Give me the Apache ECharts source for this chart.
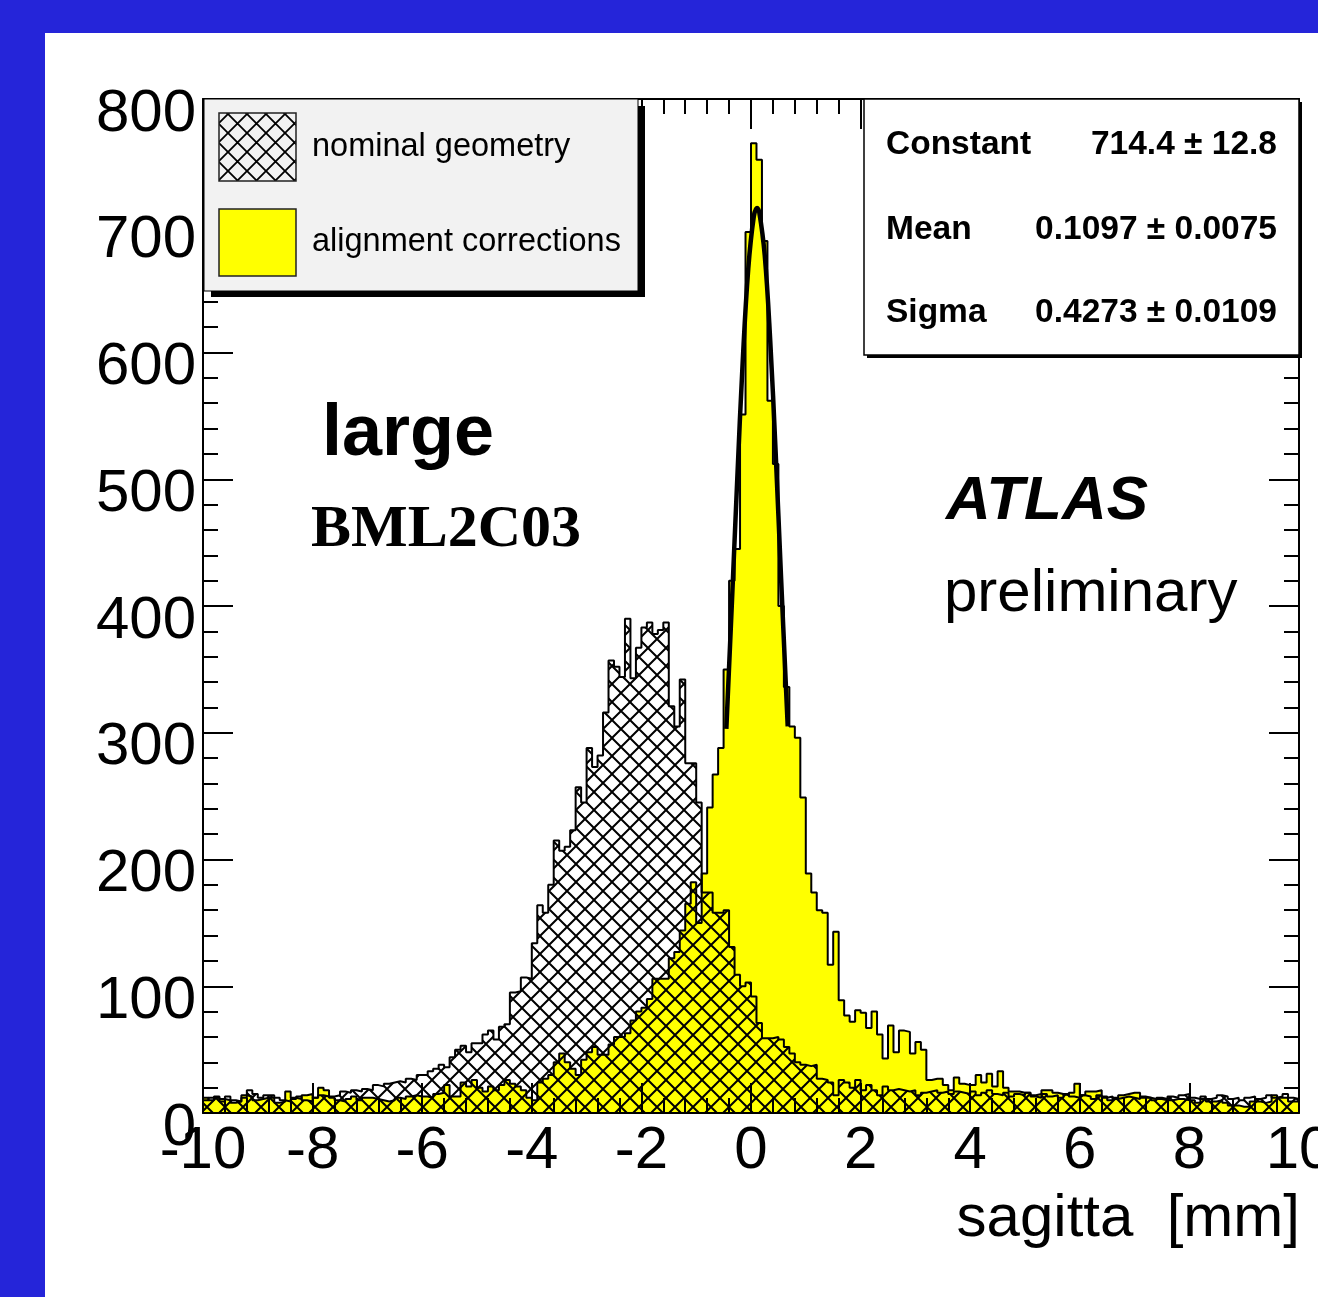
<!DOCTYPE html>
<html>
<head>
<meta charset="utf-8">
<title>sagitta BML2C03</title>
<script src="https://cdn.jsdelivr.net/npm/echarts@6/dist/echarts.min.js"></script>
<style>
	html, body { margin: 0; padding: 0; background: #fff; }
	#chart { width: 1318px; height: 1297px; }
</style>
</head>
<body>
<div id="chart"></div>
<script>
	// 200 bins of 0.1 mm between -10 and 10
	var binLow = -10
	var binWidth = 0.1

	// nominal geometry (hatched)
	var nominal = [
		10, 12, 12, 9, 13, 10, 9, 12, 18, 15,
		12, 14, 14, 12, 10, 9, 11, 13, 10, 9,
		12, 14, 13, 13, 14, 17, 16, 18, 17, 19,
		18, 22, 21, 23, 24, 25, 24, 27, 26, 30,
		30, 33, 35, 38, 36, 44, 50, 53, 48, 55,
		55, 62, 65, 58, 68, 70, 95, 96, 107, 106,
		134, 164, 158, 180, 215, 207, 210, 223, 257, 245,
		288, 273, 282, 316, 357, 352, 344, 390, 343, 367,
		383, 387, 378, 381, 387, 321, 305, 342, 276, 276,
		245, 174, 174, 158, 158, 160, 131, 109, 100, 103,
		92, 71, 59, 59, 60, 58, 52, 47, 40, 38,
		37, 38, 27, 26, 24, 14, 26, 24, 20, 26,
		18, 22, 18, 14, 21, 18, 19, 18, 17, 18,
		14, 16, 17, 18, 16, 17, 15, 17, 16, 15,
		17, 14, 16, 18, 15, 14, 16, 13, 15, 14,
		16, 13, 12, 15, 13, 14, 12, 15, 13, 12,
		14, 13, 11, 14, 12, 13, 11, 12, 13, 12,
		11, 13, 12, 10, 12, 11, 13, 12, 14, 15,
		12, 11, 13, 11, 12, 14, 13, 11, 12, 10,
		12, 13, 11, 12, 14, 12, 13, 15, 12, 11
	]

	// alignment corrections (yellow)
	var corrected = [
		12, 10, 13, 11, 10, 8, 9, 14, 13, 10,
		11, 12, 12, 8, 9, 17, 12, 11, 14, 15,
		12, 20, 18, 12, 10, 9, 11, 13, 10, 12,
		12, 11, 10, 9, 10, 12, 11, 13, 14, 13,
		13, 12, 15, 16, 22, 13, 13, 24, 21, 26,
		20, 17, 21, 18, 22, 26, 23, 21, 18, 12,
		10, 24, 27, 30, 40, 47, 40, 35, 30, 42,
		48, 52, 46, 46, 54, 60, 60, 63, 73, 80,
		83, 90, 106, 106, 106, 122, 127, 144, 165, 182,
		150, 189, 241, 267, 288, 350, 420, 445, 551, 695,
		765, 752, 688, 562, 512, 400, 336, 305, 296, 249,
		189, 174, 160, 158, 117, 143, 89, 77, 72, 81,
		79, 67, 80, 62, 43, 69, 48, 65, 64, 47,
		56, 50, 26, 27, 27, 22, 18, 28, 23, 22,
		22, 30, 24, 31, 21, 33, 20, 17, 17, 16,
		16, 14, 15, 18, 18, 16, 15, 14, 16, 23,
		14, 17, 17, 18, 13, 10, 12, 14, 15, 16,
		16, 12, 12, 11, 11, 10, 10, 11, 11, 10,
		10, 8, 11, 9, 9, 10, 8, 6, 6, 5,
		5, 9, 9, 8, 9, 14, 12, 12, 9, 9
	]

	// gaussian fit curve
	var fitX = [-0.45, -0.35, -0.25, -0.15, -0.05, 0.05, 0.11, 0.15, 0.25, 0.35, 0.45, 0.55, 0.67]
	var fitY = [303, 401, 501, 594, 666, 707, 714, 711, 677, 610, 521, 421, 305]

	var statNames = ['Constant', 'Mean', 'Sigma']
	var statValues = ['714.4 \u00b1 12.8', '0.1097 \u00b1 0.0075', '0.4273 \u00b1 0.0109']
	var legendNames = ['nominal geometry', 'alignment corrections']

	var sans = '"Liberation Sans", Arial, Helvetica, sans-serif'
	var serif = '"Liberation Serif", "Times New Roman", serif'

	// histogram -> outline points for step:'end'
	function stepData(vals) {
		var pts = [[binLow, 0]]
		for (var i = 0; i < vals.length; i++) {
			pts.push([+(binLow + i * binWidth).toFixed(2), vals[i]])
		}
		var hi = +(binLow + vals.length * binWidth).toFixed(2)
		pts.push([hi, vals[vals.length - 1]])
		pts.push([hi, 0])
		return pts
	}

	// cross hatch tile
	function hatch(size, lw) {
		var c = document.createElement('canvas')
		c.width = size
		c.height = size
		var g = c.getContext('2d')
		g.strokeStyle = '#000'
		g.lineWidth = lw
		g.beginPath()
		g.moveTo(-1, -1)
		g.lineTo(size + 1, size + 1)
		g.moveTo(size + 1, -1)
		g.lineTo(-1, size + 1)
		g.stroke()
		return c
	}

	function frameAxis(extra) {
		var ax = {
			type: 'value',
			z: 10,
			axisLine: { show: true, onZero: false, lineStyle: { color: '#000', width: 2 } },
			axisTick: { show: true, inside: true, length: 30, lineStyle: { color: '#000', width: 2 } },
			minorTick: { show: true, splitNumber: 5, length: 15, lineStyle: { color: '#000', width: 2 } },
			splitLine: { show: false },
			minorSplitLine: { show: false }
		}
		for (var k in extra) ax[k] = extra[k]
		return ax
	}

	var xRange = { min: -10, max: 10, interval: 2 }
	var yRange = { min: 0, max: 800, interval: 100 }

	var hatchTile = hatch(18, 2)

	var graphics = [
		// blue page frame
		{ type: 'rect', shape: { x: 0, y: 0, width: 1318, height: 33 }, style: { fill: '#2525d9' }, z: 100 },
		{ type: 'rect', shape: { x: 0, y: 0, width: 45, height: 1297 }, style: { fill: '#2525d9' }, z: 100 },

		// legend box
		{ type: 'rect', shape: { x: 211, y: 106, width: 434, height: 191 }, style: { fill: '#000' }, z: 100 },
		{ type: 'rect', shape: { x: 204, y: 99, width: 434, height: 192 }, style: { fill: '#f2f2f2', stroke: '#000', lineWidth: 1 }, z: 101 },
		{ type: 'rect', shape: { x: 219, y: 113, width: 77, height: 68 }, style: { fill: { image: hatch(19, 1.8), repeat: 'repeat' }, stroke: '#222', lineWidth: 1.5 }, z: 102 },
		{ type: 'rect', shape: { x: 219, y: 209, width: 77, height: 67 }, style: { fill: '#ffff00', stroke: '#222', lineWidth: 1.5 }, z: 102 },
		{ type: 'text', x: 312, y: 147, style: { text: legendNames[0], fill: '#000', fontSize: 32.5, fontFamily: sans, align: 'left', verticalAlign: 'middle' }, z: 102 },
		{ type: 'text', x: 312, y: 242, style: { text: legendNames[1], fill: '#000', fontSize: 32.5, fontFamily: sans, align: 'left', verticalAlign: 'middle' }, z: 102 },

		// fit results box
		{ type: 'rect', shape: { x: 867, y: 102, width: 435, height: 256 }, style: { fill: '#000' }, z: 100 },
		{ type: 'rect', shape: { x: 864, y: 99, width: 435, height: 256 }, style: { fill: '#fff', stroke: '#000', lineWidth: 1.5 }, z: 101 },

		// labels
		{ type: 'text', x: 322, y: 435, style: { text: 'large', fill: '#000', fontSize: 72, fontWeight: 'bold', fontFamily: sans, align: 'left', verticalAlign: 'middle' }, z: 102 },
		{ type: 'text', x: 311, y: 530, style: { text: 'BML2C03', fill: '#000', fontSize: 60, fontWeight: 'bold', fontFamily: serif, align: 'left', verticalAlign: 'middle' }, z: 102 },
		{ type: 'text', x: 946, y: 502, style: { text: 'ATLAS', fill: '#000', fontSize: 62, fontWeight: 'bold', fontStyle: 'italic', fontFamily: sans, align: 'left', verticalAlign: 'middle' }, z: 102 },
		{ type: 'text', x: 944, y: 594, style: { text: 'preliminary', fill: '#000', fontSize: 60, fontFamily: sans, align: 'left', verticalAlign: 'middle' }, z: 102 },
		{ type: 'text', x: 1300, y: 1219, style: { text: 'sagitta  [mm]', fill: '#000', fontSize: 60, fontFamily: sans, align: 'right', verticalAlign: 'middle' }, z: 102 }
	]

	var statY = [145, 230, 313]
	for (var s = 0; s < statNames.length; s++) {
		graphics.push({ type: 'text', x: 886, y: statY[s], style: { text: statNames[s], fill: '#000', fontSize: 33.5, fontWeight: 'bold', fontFamily: sans, align: 'left', verticalAlign: 'middle' }, z: 102 })
		graphics.push({ type: 'text', x: 1277, y: statY[s], style: { text: statValues[s], fill: '#000', fontSize: 33.5, fontWeight: 'bold', fontFamily: sans, align: 'right', verticalAlign: 'middle' }, z: 102 })
	}

	var chart = echarts.init(document.getElementById('chart'), null, { renderer: 'canvas' })
	chart.setOption({
		backgroundColor: '#fff',
		animation: false,
		grid: { left: 203, top: 99, right: 19, bottom: 184, containLabel: false, outerBoundsMode: 'none' },
		xAxis: [
			frameAxis({
				position: 'bottom', min: xRange.min, max: xRange.max, interval: xRange.interval,
				axisLabel: { color: '#000', fontSize: 60, fontFamily: sans, margin: 8 }
			}),
			frameAxis({
				position: 'top', min: xRange.min, max: xRange.max, interval: xRange.interval,
				axisLabel: { show: false }
			})
		],
		yAxis: [
			frameAxis({
				position: 'left', min: yRange.min, max: yRange.max, interval: yRange.interval,
				// ROOT puts the labels a bit below their ticks
				axisLabel: { color: '#000', fontSize: 60, fontFamily: sans, margin: 7, verticalAlign: 'top', lineHeight: 30 }
			}),
			frameAxis({
				position: 'right', min: yRange.min, max: yRange.max, interval: yRange.interval,
				axisLabel: { show: false }
			})
		],
		series: [
			{
				name: legendNames[1],
				type: 'line',
				step: 'end',
				data: stepData(corrected),
				symbol: 'none',
				z: 2,
				lineStyle: { color: '#000', width: 2 },
				areaStyle: { color: '#ffff00', opacity: 1 }
			},
			{
				name: legendNames[0],
				type: 'line',
				step: 'end',
				data: stepData(nominal),
				symbol: 'none',
				z: 3,
				lineStyle: { color: '#000', width: 2 },
				areaStyle: { color: { image: hatchTile, repeat: 'repeat' }, opacity: 1 }
			},
			{
				name: 'fit',
				type: 'line',
				smooth: 0.4,
				data: fitX.map(function (x, i) { return [x, fitY[i]] }),
				symbol: 'none',
				z: 4,
				lineStyle: { color: '#000', width: 4.5 }
			}
		],
		graphic: graphics
	})
</script>
</body>
</html>
